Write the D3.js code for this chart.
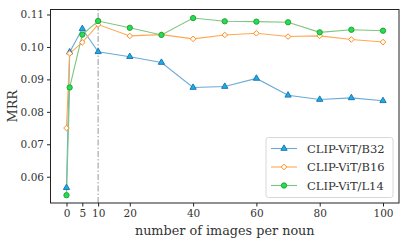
<!DOCTYPE html>
<html>
<head>
<meta charset="utf-8">
<script src="https://cdn.jsdelivr.net/npm/d3@7"></script>
<style>
	body { margin: 0; background: white; }
</style>
</head>
<body>
<script>
var W = 409, H = 244;
var margin = { left: 50.5, right: 10, top: 9.5, bottom: 41 };
var font = "DejaVu Serif";

var images = [0, 1, 5, 10, 20, 30, 40, 50, 60, 70, 80, 90, 100];
var b32 = [0.0566, 0.0984, 0.1056, 0.0985, 0.0970, 0.0952, 0.0875, 0.0878, 0.0903, 0.0851, 0.0838, 0.0843, 0.0834];
var b16 = [0.0750, 0.0980, 0.1014, 0.1069, 0.1034, 0.1038, 0.1025, 0.1037, 0.1042, 0.1032, 0.1034, 0.1023, 0.1015];
var l14 = [0.0543, 0.0875, 0.1038, 0.1080, 0.1059, 0.1037, 0.1089, 0.1079, 0.1078, 0.1076, 0.1045, 0.1053, 0.1050];
var xticks = [0, 5, 10, 20, 40, 60, 80, 100];
var yticks = [0.06, 0.07, 0.08, 0.09, 0.10, 0.11];
var series_names = ["CLIP-ViT/B32", "CLIP-ViT/B16", "CLIP-ViT/L14"];

var svg = d3.select("body").append("svg")
	.attr("width", W)
	.attr("height", H);

var x = d3.scaleLinear().domain([-5.05, 105.05]).range([margin.left, W - margin.right]);
var y = d3.scaleLinear().domain([0.0519, 0.11154]).range([H - margin.bottom, margin.top]);

// dash-dot marker at 10 images
svg.append("line")
	.attr("x1", x(10)).attr("x2", x(10))
	.attr("y1", y.range()[0]).attr("y2", y.range()[1])
	.attr("stroke", "#aaaaaa")
	.attr("stroke-width", 1.2)
	.attr("stroke-dasharray", "6,2,1.5,2");

var styles = [
	{ data: b32, line: "#6aaad8", fill: "#17b0e6", edge: "#1f77b4", sym: d3.symbolTriangle, size: 17 },
	{ data: b16, line: "#ffa852", fill: "#ffffff", edge: "#ff8c1a", sym: "diamond", size: 0 },
	{ data: l14, line: "#7cc77c", fill: "#1ee05a", edge: "#2ca02c", sym: d3.symbolCircle, size: 22 }
];

var line = d3.line()
	.x(function(d) { return x(d[0]); })
	.y(function(d) { return y(d[1]); });

function marker_path(s) {
	if (s.sym == "diamond") {
		var r = 2.8;
		return "M0," + (-r) + "L" + r + ",0L0," + r + "L" + (-r) + ",0Z";
	}
	return d3.symbol().type(s.sym).size(s.size)();
}

styles.forEach(function(s) {
	var pts = images.map(function(v, i) { return [v, s.data[i]]; });
	svg.append("path")
		.attr("d", line(pts))
		.attr("fill", "none")
		.attr("stroke", s.line)
		.attr("stroke-width", 1.1);
});

styles.forEach(function(s) {
	var pts = images.map(function(v, i) { return [v, s.data[i]]; });
	svg.selectAll(null).data(pts).enter()
		.append("path")
		.attr("d", marker_path(s))
		.attr("transform", function(d) { return "translate(" + x(d[0]) + "," + y(d[1]) + ")"; })
		.attr("fill", s.fill)
		.attr("stroke", s.edge)
		.attr("stroke-width", 1);
});

// frame
svg.append("rect")
	.attr("x", x.range()[0]).attr("y", y.range()[1])
	.attr("width", x.range()[1] - x.range()[0])
	.attr("height", y.range()[0] - y.range()[1])
	.attr("fill", "none")
	.attr("stroke", "#222")
	.attr("stroke-width", 1);

var xAxis = svg.append("g")
	.attr("transform", "translate(0," + y.range()[0] + ")")
	.call(d3.axisBottom(x).tickValues(xticks).tickSize(3.5).tickPadding(3).tickFormat(d3.format("d")));
var yAxis = svg.append("g")
	.attr("transform", "translate(" + x.range()[0] + ",0)")
	.call(d3.axisLeft(y).tickValues(yticks).tickSize(3.5).tickPadding(3).tickFormat(d3.format(".2f")));

[xAxis, yAxis].forEach(function(g) {
	g.attr("font-family", font).attr("font-size", 10.5);
	g.select(".domain").remove();
	g.selectAll(".tick line").attr("stroke", "#222");
	g.selectAll("text").attr("fill", "#333");
});

svg.append("text")
	.attr("x", (x.range()[0] + x.range()[1]) / 2)
	.attr("y", 235)
	.attr("text-anchor", "middle")
	.style("font-family", font)
	.attr("font-size", 12.8)
	.attr("fill", "#333")
	.text("number of images per noun");

svg.append("text")
	.attr("transform", "translate(17," + ((y.range()[0] + y.range()[1]) / 2) + ") rotate(-90)")
	.attr("text-anchor", "middle")
	.style("font-family", font)
	.attr("font-size", 12.8)
	.attr("fill", "#333")
	.text("MRR");

// legend
var lg = svg.append("g").attr("transform", "translate(266,137.5)");
lg.append("rect")
	.attr("width", 127).attr("height", 60)
	.attr("rx", 2.5)
	.attr("fill", "white").attr("fill-opacity", 0.8)
	.attr("stroke", "#d8d8d8");

styles.forEach(function(s, i) {
	var yy = 11 + i * 18.5;
	lg.append("line")
		.attr("x1", 5).attr("x2", 31)
		.attr("y1", yy).attr("y2", yy)
		.attr("stroke", s.line).attr("stroke-width", 1.1);
	lg.append("path")
		.attr("d", marker_path(s))
		.attr("transform", "translate(18," + yy + ")")
		.attr("fill", s.fill).attr("stroke", s.edge).attr("stroke-width", 1);
	lg.append("text")
		.attr("x", 41).attr("y", yy + 4)
		.style("font-family", font)
		.attr("font-size", 11.5)
		.attr("fill", "#333")
		.text(series_names[i]);
});
</script>
</body>
</html>
